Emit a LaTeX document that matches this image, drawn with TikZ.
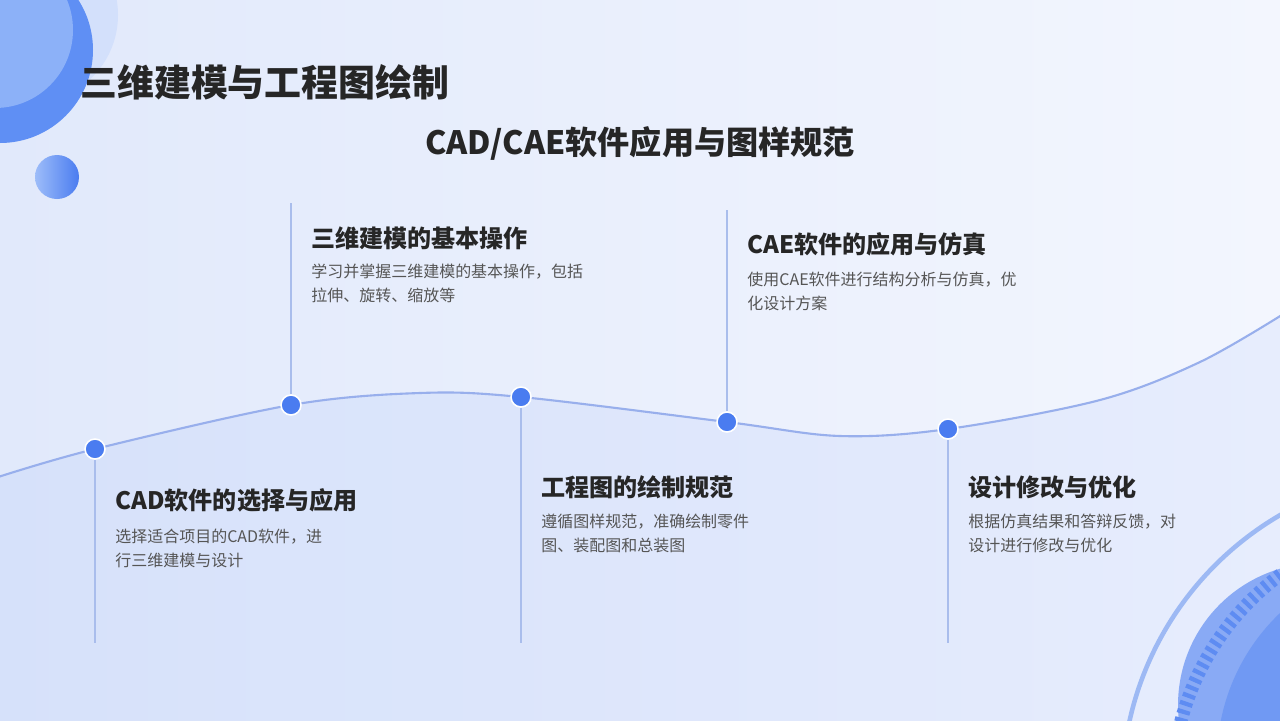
\documentclass[tikz,border=0pt]{standalone}
\usepackage{fontspec}
\setmainfont{Noto Sans CJK SC}
\usetikzlibrary{positioning}
\usepackage{xcolor}
\definecolor{cBlue}{HTML}{4A7CF0}
\definecolor{cStem}{HTML}{A9BDEC}
\definecolor{cCurve}{HTML}{98AFEC}
\definecolor{cText}{HTML}{262626}
\definecolor{cDesc}{HTML}{555555}
\definecolor{cBgL}{HTML}{E1E9FB}
\definecolor{cBgR}{HTML}{F3F6FE}
\definecolor{cPale}{HTML}{D3E0FB}
\definecolor{cMid}{HTML}{8CB1F8}
\definecolor{cDeep}{HTML}{5F8FF4}
\definecolor{cRing}{HTML}{9DB9F4}
\definecolor{cBand}{HTML}{B3CBF8}
\definecolor{cDisk}{HTML}{89AAF5}
\definecolor{cDisk2}{HTML}{7099F3}
\definecolor{cTick}{HTML}{5E8CF2}

\begin{document}
\begin{tikzpicture}[x=0.02cm, y=-0.02cm,
  dot/.style={circle, fill=cBlue, draw=white, line width=0.9pt,
              minimum size=0.4cm, inner sep=0pt},
  stem/.style={draw=cStem, line width=0.9pt},
  head/.style={anchor=west, inner sep=0pt, text=cText,
               font=\fontsize{13.7}{16}\selectfont\bfseries},
  desc/.style={anchor=north west, inner sep=0pt, align=left, text=cDesc,
               font=\fontsize{9.1}{13.6}\selectfont},
]
\useasboundingbox (0,0) rectangle (1280,720);

% ---- Background ----
\fill[left color=cBgL, right color=cBgR] (0,0) rectangle (1280,720);
\fill[cBlue, opacity=0.07] plot[smooth, tension=0.55] coordinates
  {(-5,478) (95,449) (291,405) (420,393) (521,397) (727,422) (840,436)
   (948,429) (1100,400) (1200,362) (1285,313)}
  -- (1285,725) -- (-5,725) -- cycle;

% ---- Corner decorations ----
\begin{scope}
\clip (0,0) rectangle (1280,720);
\fill[cPale] (30,15) circle (88);
\fill[cDeep] (0,50) circle (93);
\fill[cMid] (-5,30) circle (78);
\shade[left color=cMid!85, right color=cBlue] (57,177) circle (22);
\draw[cRing, line width=2.6pt] (1440,790) circle (318);
\fill[cBand] (1440,790) circle (262);
\fill[cDisk] (1320,705) circle (142);
\fill[cDisk2] (1420,760) circle (203);
\fill[cDisk!85] (1450,790) circle (150);
\draw[cTick, line width=7.5pt, dash pattern=on 2.4pt off 2.4pt] (1440,790) circle (268);
\end{scope}

% ---- Titles ----
\node[anchor=west, inner sep=0pt, text=cText,
      font=\fontsize{21}{24}\selectfont\bfseries] (title) at (80,82) {三维建模与工程图绘制};
\node[inner sep=0pt, text=cText,
      font=\fontsize{18.3}{22}\selectfont\bfseries] (sub) at (640,143) {CAD/CAE软件应用与图样规范};

% ---- Timeline curve ----
\draw[cCurve, line width=1.2pt] plot[smooth, tension=0.55] coordinates
  {(-5,478) (95,449) (291,405) (420,393) (521,397) (727,422) (840,436)
   (948,429) (1100,400) (1200,362) (1285,313)};

\coordinate (e1) at (95,643);
\coordinate (e2) at (291,203);
\coordinate (e3) at (521,643);
\coordinate (e4) at (727,210);
\coordinate (e5) at (948,643);

\node[dot] (d1) at (95,449) {};
\node[dot] (d2) at (291,405) {};
\node[dot] (d3) at (521,397) {};
\node[dot] (d4) at (727,422) {};
\node[dot] (d5) at (948,429) {};

\draw[stem] (d1) -- (e1);
\draw[stem] (d2) -- (e2);
\draw[stem] (d3) -- (e3);
\draw[stem] (d4) -- (e4);
\draw[stem] (d5) -- (e5);

% ---- Step texts ----
\node[head] (h1) at (115,500) {CAD软件的选择与应用};
\node[desc] (t1) at (115,529) {选择适合项目的CAD软件，进\\行三维建模与设计};

\node[head] (h2) at (311,238) {三维建模的基本操作};
\node[desc] (t2) at (311,264) {学习并掌握三维建模的基本操作，包括\\拉伸、旋转、缩放等};

\node[head] (h3) at (541,487) {工程图的绘制规范};
\node[desc] (t3) at (541,514) {遵循图样规范，准确绘制零件\\图、装配图和总装图};

\node[head] (h4) at (747,244) {CAE软件的应用与仿真};
\node[desc] (t4) at (747,272) {使用CAE软件进行结构分析与仿真，优\\化设计方案};

\node[head] (h5) at (968,487) {设计修改与优化};
\node[desc] (t5) at (968,514) {根据仿真结果和答辩反馈，对\\设计进行修改与优化};

\end{tikzpicture}
\end{document}
